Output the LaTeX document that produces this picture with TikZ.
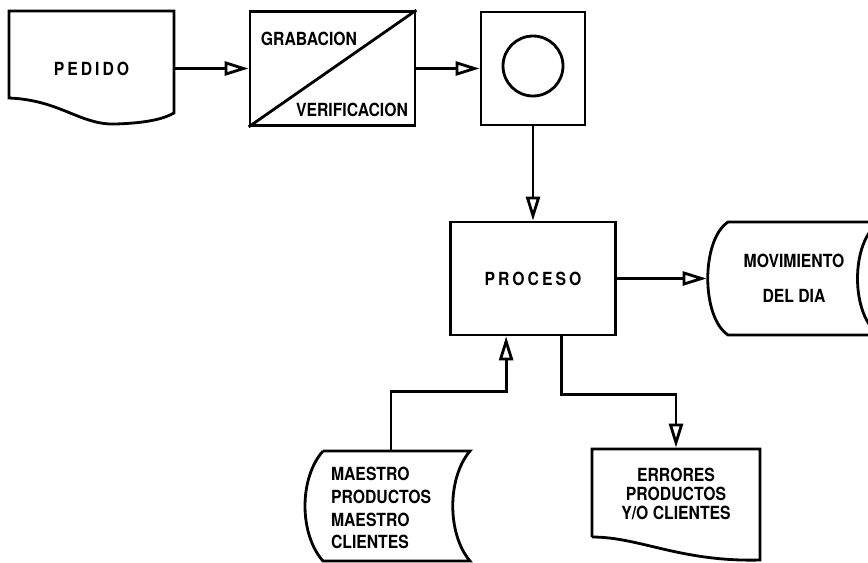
\documentclass[tikz,border=0pt]{standalone}
\usepackage{fontspec}
\setsansfont{TeX Gyre Heros}[FakeStretch=0.87]
\usetikzlibrary{arrows.meta,calc}

\begin{document}
\begin{tikzpicture}[x=0.02cm,y=-0.02cm,>={Triangle[open,length=0.48cm,width=0.28cm]},line width=1.6pt,
    every node/.style={font=\sffamily\bfseries\fontsize{10.3}{11}\selectfont,inner sep=0pt},
    box/.style={draw,minimum width=3.3cm,minimum height=2.26cm}]
  \clip (0,0) rectangle (868,562);
  % pedido (documento)
  \node[minimum width=3.3cm,minimum height=2.32cm] (pedido) at (91.5,68.5) {P\,E\,D\,I\,D\,O};
  \draw (9,98) -- (9,11) -- (174,11) -- (174,113) .. controls (165,118) and (150,123) .. (115,124) .. controls (80,125) and (60,100) .. (9,98) -- cycle;
  % grabacion / verificacion
  \node[box,minimum height=2.28cm] (grab) at (332.5,68.5) {};
  \draw (grab.south west) -- (grab.north east);
  \node (grabtxt) at (309,38.5) {GRABACION};
  \node (veriftxt) at (352,109.5) {VERIFICACION};
  % disco
  \node[box,minimum width=2.08cm] (disco) at (533,68.5) {};
  \node[draw,circle,minimum size=1.2cm] (circ) at (533,66) {};
  % proceso
  \node[box] (proc) at (533,278.5) {P\,R\,O\,C\,E\,S\,O};
  % movimiento del dia
  \node[minimum width=3.44cm,minimum height=2.26cm,align=center] (mov) at (794,278.5) {MOVIMIENTO\\[9pt]DEL DIA};
  \draw (900,222) -- (728,222) .. controls (701,240) and (701,317) .. (728,335) -- (900,335);
  \draw (880,222) .. controls (850,240) and (850,317) .. (880,335);
  % maestros
  \node[minimum height=2.28cm,text width=2.4cm,align=left,font=\sffamily\bfseries\fontsize{10.3}{13}\selectfont] (maes) at (391,508) {MAESTRO\\PRODUCTOS\\MAESTRO\\CLIENTES};
  \draw (323,451) -- (470,451) .. controls (447,478) and (447,534) .. (470,561) -- (323,561) .. controls (299,534) and (299,478) .. (323,451);
  % errores
  \node[minimum width=3.36cm,minimum height=1.8cm,align=center] (err) at (676,494) {ERRORES\\PRODUCTOS\\Y/O CLIENTES};
  \draw (592,537) -- (592,449) -- (760,449) -- (760,560) .. controls (680,562) and (640,537) .. (592,537);
  % conectores
  \draw[->] (pedido.east) -- (pedido.east -| grab.west);
  \draw[->] (grab.east) -- (disco.west);
  \draw[->] (disco.south) -- (proc.north);
  \draw[->] (proc.east) -- (mov.west);
  \draw[->] (maes.north) -- ++(0,-58) -| ([xshift=1.14cm]proc.south west);
  \draw[->] ([xshift=2.24cm]proc.south west) -- ++(0,58) -| (err.north);
\end{tikzpicture}
\end{document}
